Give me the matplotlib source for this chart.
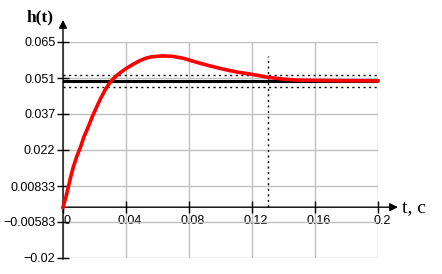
import matplotlib.pyplot as plt
from matplotlib.transforms import ScaledTranslation

# step response h(t)
t = [0.0, 0.0019, 0.0034, 0.0049, 0.0066, 0.0087, 0.0112, 0.0133, 0.0161,
     0.0186, 0.0214, 0.0239, 0.0267, 0.0294, 0.0320, 0.0345, 0.0372, 0.0404,
     0.0447, 0.0489, 0.0525, 0.0563, 0.0627, 0.0690, 0.0764, 0.0849, 0.0933,
     0.1018, 0.1103, 0.1187, 0.1250, 0.1300, 0.1400, 0.1480, 0.1590, 0.1710,
     0.2000]
h = [0.0, 0.0041, 0.0080, 0.0120, 0.0159, 0.0199, 0.0238, 0.0277, 0.0317,
     0.0356, 0.0395, 0.0428, 0.0461, 0.0487, 0.0506, 0.0520, 0.0533, 0.0547,
     0.0563, 0.0577, 0.0586, 0.0592, 0.0595, 0.0594, 0.0586, 0.0570, 0.0556,
     0.0543, 0.0532, 0.0524, 0.0517, 0.0511, 0.0504, 0.0500, 0.0499, 0.0498,
     0.0497]

h_steady = 0.0497
band = 0.05           # +-5 % band
t_settle = 0.13
h_max = 0.0596

xticks = [0, 0.04, 0.08, 0.12, 0.16, 0.2]
xlabels = ['0', '0.04', '0.08', '0.12', '0.16', '0.2']
yticks = [-0.02, -0.005833, 0.008333, 0.0225, 0.036667, 0.050833, 0.065]
ylabels = ['\u22120.02', '\u22120.00583', '0.00833', '0.022', '0.037', '0.051', '0.065']

fig = plt.figure(figsize=(4.42, 2.74), dpi=100)
ax = fig.add_axes([63 / 442, 1 - 258 / 274, 315 / 442, 216 / 274])
ax.set_xlim(0, 0.2)
ax.set_ylim(-0.02, 0.065)

# grid
ax.set_xticks(xticks)
ax.set_yticks(yticks)
ax.grid(True, color='#c0c0c0', lw=1)
ax.set_axisbelow(True)
for s in ['top', 'right']:
    ax.spines[s].set_visible(False)
ax.spines['bottom'].set_position(('data', 0))
ax.spines['left'].set_position(('data', 0))
ax.spines['bottom'].set_visible(False)
ax.spines['left'].set_visible(False)

ax.set_xticklabels(xlabels, fontsize=9, family='Liberation Sans')
ax.set_yticklabels(ylabels, fontsize=9, family='Liberation Sans')
ax.tick_params(direction='inout', length=9, width=1, color='black', pad=1)
off = ScaledTranslation(4 / 100, 0, fig.dpi_scale_trans)
for lab in ax.get_xticklabels():
    lab.set_transform(lab.get_transform() + off)

# axes with arrows
ax.annotate('', xy=(0.2127, 0), xytext=(0, 0),
            arrowprops=dict(arrowstyle='-|>', color='black', lw=1, mutation_scale=12,
                            shrinkA=0, shrinkB=0), annotation_clip=False)
ax.annotate('', xy=(0, 0.0737), xytext=(0, -0.0205),
            arrowprops=dict(arrowstyle='-|>', color='black', lw=1, mutation_scale=12,
                            shrinkA=0, shrinkB=0), annotation_clip=False)

# steady state and 5% band
ax.axhline(h_steady, color='black', lw=2.2)
ax.axhline(h_steady * (1 + band), color='black', lw=1, ls=(0, (1.5, 2.5)))
ax.axhline(h_steady * (1 - band), color='black', lw=1, ls=(0, (1.5, 2.5)))
ax.plot([t_settle, t_settle], [0, h_max], color='black', lw=1, ls=(0, (1.5, 2.5)))

ax.plot(t, h, color='#ff0000', lw=2.6, clip_on=False, zorder=5)

fig.text(40 / 442, 1 - 17 / 274, 'h(t)', ha='center', va='center',
         fontsize=12.5, fontweight='bold', family='Liberation Serif')
fig.text(402 / 442, 1 - 208 / 274, 't, c', ha='left', va='center',
         fontsize=14, family='Liberation Serif')

fig.savefig('out.png', dpi=100)
